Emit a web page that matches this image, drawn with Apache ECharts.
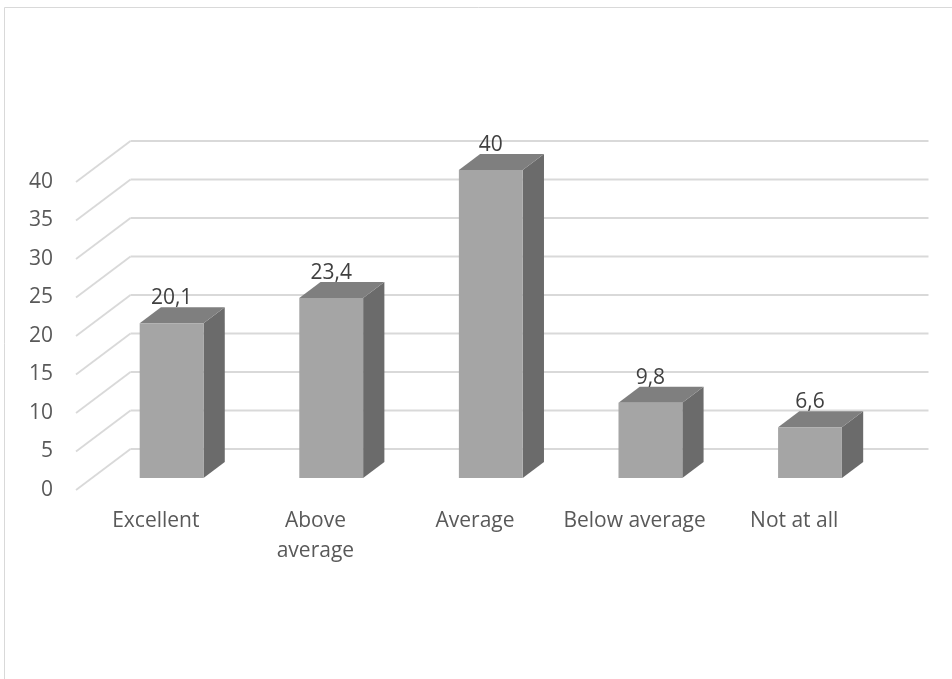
<!DOCTYPE html>
<html>
<head>
<meta charset="utf-8">
<script src="https://cdn.jsdelivr.net/npm/echarts@6/dist/echarts.min.js"></script>
<style>
  html, body { margin: 0; padding: 0; background: #fff; }
  #chart { width: 952px; height: 679px; }
</style>
</head>
<body>
<div id="chart"></div>
<script>
const categories = ['Excellent', 'Above average', 'Average', 'Below average', 'Not at all'];
const values = [20.1, 23.4, 40, 9.8, 6.6];
const yTicks = [0, 5, 10, 15, 20, 25, 30, 35, 40];

// depth of the 3d floor (front plane -> back wall), in pixels
const DX = 54.5;
const DY = -41;
const FRONT = 0.29;  // bar front face, share of depth
const DEPTH = 0.39;  // bar depth, share of depth
const BAR_W = 0.40;  // bar width, share of band

let myChart = echarts.init(document.getElementById('chart'));

const option = {
  animation: false,
  backgroundColor: '#fff',
  textStyle: { fontFamily: 'Open Sans' },
  graphic: [{
    type: 'rect',
    shape: { x: 4.5, y: 7.5, width: 1200, height: 1000 },
    style: { fill: 'none', stroke: '#d9d9d9', lineWidth: 1 },
    silent: true
  }],
  grid: {
    left: 76,
    right: 78,
    top: 182,
    bottom: 189,
    containLabel: false
  },
  xAxis: [{
    type: 'category',
    data: categories,
    axisLine: { show: false },
    axisTick: { show: false },
    splitLine: { show: false },
    axisLabel: {
      margin: 16,
      fontSize: 21,
      lineHeight: 30,
      color: '#595959',
      interval: 0,
      formatter: function (v) {
        return v === 'Above average' ? 'Above\naverage' : v;
      }
    }
  }],
  yAxis: [{
    type: 'value',
    min: 0,
    max: 40,
    interval: 5,
    axisLine: { show: false },
    axisTick: { show: false },
    splitLine: { show: false },
    axisLabel: {
      margin: 23,
      fontSize: 21,
      color: '#595959'
    }
  }],
  series: [{
    // floor diagonals + back wall lines
    type: 'custom',
    silent: true,
    data: yTicks.map((t) => [0, t]),
    renderItem: function (params, api) {
      const rect = params.coordSys;
      const p = api.coord([0, api.value(1)]);
      const x0 = rect.x;
      const y0 = p[1];
      const style = { stroke: '#d9d9d9', lineWidth: 1.8, fill: 'none' };
      return {
        type: 'group',
        children: [{
          type: 'line',
          shape: { x1: x0, y1: y0, x2: x0 + DX, y2: y0 + DY },
          style: style
        }, {
          type: 'line',
          shape: { x1: x0 + DX, y1: y0 + DY, x2: rect.x + rect.width + DX, y2: y0 + DY },
          style: style
        }]
      };
    },
    z: 1
  }, {
    // 3d bars
    type: 'custom',
    data: values.map((v, i) => [i, v]),
    renderItem: function (params, api) {
      const idx = api.value(0);
      const val = api.value(1);
      const base = api.coord([idx, 0]);
      const top = api.coord([idx, val]);
      const band = api.size([1, 0])[0];
      const w = band * BAR_W;
      const cx = base[0] + DX * FRONT;
      const x0 = cx - w / 2;
      const x1 = cx + w / 2;
      const yb = base[1] + DY * FRONT;
      const yt = top[1] + DY * FRONT;
      const ddx = DX * DEPTH;
      const ddy = DY * DEPTH;
      return {
        type: 'group',
        children: [{
          type: 'polygon',
          shape: { points: [[x1, yt], [x1 + ddx, yt + ddy], [x1 + ddx, yb + ddy], [x1, yb]] },
          style: { fill: '#6b6b6b' }
        }, {
          type: 'polygon',
          shape: { points: [[x0, yt], [x1, yt], [x1 + ddx, yt + ddy], [x0 + ddx, yt + ddy]] },
          style: { fill: '#7f7f7f' }
        }, {
          type: 'rect',
          shape: { x: x0, y: yt, width: w, height: yb - yt },
          style: { fill: '#a5a5a5' }
        }, {
          type: 'text',
          x: cx,
          y: yt - 25,
          style: {
            text: String(val).replace('.', ','),
            fontFamily: 'Open Sans',
            fontSize: 21,
            fill: '#404040',
            align: 'center',
            verticalAlign: 'middle'
          }
        }]
      };
    },
    z: 2
  }]
};

myChart.setOption(option, true);
</script>
</body>
</html>
